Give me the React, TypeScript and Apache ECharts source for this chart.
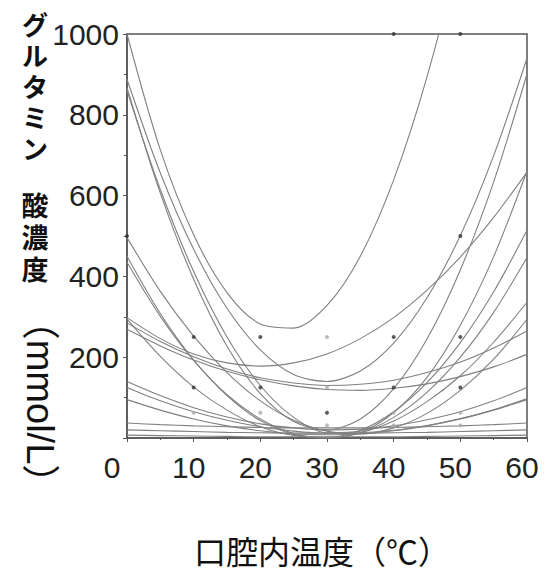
import { useEffect, useRef } from 'react';
import * as echarts from 'echarts';

// temperature samples (°C)
const temps = [0, 5, 10, 15, 20, 25, 30, 35, 40, 45, 50, 55, 60];

// glutamate concentration curves (mmol/L)
const curveA = [1000, 713, 503, 360, 282, 272, 328, 450, 639, 894, 1216, 1605, 2059];
const curveB1 = [888, 656, 467, 321, 218, 157, 140, 166, 235, 347, 501, 699, 940];
const curveB2 = [867, 606, 393, 227, 110, 41, 20, 47, 122, 245, 416, 634, 901];
const curveB3 = [860, 615, 412, 250, 130, 51, 13, 17, 63, 150, 279, 449, 661];
const curveC0 = [496, 363, 252, 162, 92, 44, 17, 10, 25, 61, 118, 195, 294];
const curveC1 = [450, 308, 193, 105, 43, 9, 1, 19, 65, 137, 236, 362, 514];
const curveC2 = [435, 301, 192, 107, 47, 11, 0, 13, 51, 113, 200, 311, 447];
const curveD1 = [298, 246, 208, 186, 178, 186, 208, 246, 298, 366, 448, 546, 658];
const curveD2 = [285, 239, 201, 171, 149, 136, 130, 133, 143, 162, 188, 223, 265];
const curveD3 = [269, 228, 193, 165, 144, 129, 120, 118, 123, 134, 152, 176, 207];
const curveP = [294, 202, 126, 69, 28, 6, 0, 13, 42, 90, 154, 237, 336];
const curveE1 = [140, 105, 75, 52, 35, 25, 20, 22, 30, 45, 65, 92, 125];
const curveE2 = [125, 92, 65, 44, 28, 17, 12, 13, 19, 31, 48, 70, 98];
const curveE3 = [95, 69, 47, 30, 18, 10, 8, 10, 18, 30, 47, 69, 95];
const curveF1 = [37, 33, 30, 28, 26, 25, 25, 25, 26, 28, 30, 33, 37];
const curveF2 = [20, 18, 16, 14, 13, 12, 12, 12, 13, 14, 16, 18, 20];
const curveF3 = [7, 6, 5, 4, 3, 3, 3, 3, 3, 4, 5, 6, 7];

const curves = [
  curveA, curveB1, curveB2, curveB3, curveC0, curveC1, curveC2, curveD1,
  curveD2, curveD3, curveP, curveE1, curveE2, curveE3, curveF1, curveF2, curveF3,
];

// measured points
const darkPoints = [
  [0, 500], [10, 250], [10, 125], [20, 250], [20, 125], [30, 62.5],
  [40, 125], [40, 1000], [50, 1000], [50, 500], [50, 250], [50, 125], [40, 250],
];
const lightPoints = [
  [30, 250], [30, 125], [40, 62.5], [20, 62.5], [10, 62.5], [50, 62.5],
  [50, 31.25], [30, 31.25], [40, 31.25],
];

const xTicks = [0, 10, 20, 30, 40, 50, 60];
const yTicks = [0, 200, 400, 600, 800, 1000];

const yTitleKana = ['グ', 'ル', 'タ', 'ミ', 'ン'];
const yTitleKanji = ['酸', '濃', '度'];
const yTitleUnit = '（mmol/L）';
const xTitle = '口腔内温度（℃）';

const FONT = "'Liberation Sans', 'Noto Sans CJK JP', sans-serif";
const CJK = "'Noto Sans CJK JP', sans-serif";

export default function App() {
  const ref = useRef<HTMLDivElement>(null);

  useEffect(() => {
    document.body.style.margin = '0';
    const chart = echarts.init(ref.current!, undefined, { renderer: 'svg' });

    const lineSeries = curves.map((c) => ({
      type: 'line' as const,
      data: temps.map((t, i) => [t, c[i]]),
      smooth: 0.3,
      showSymbol: false,
      silent: true,
      clip: true,
      lineStyle: { color: '#808080', width: 1.1 },
      z: 2,
    }));

    chart.setOption({
      animation: false,
      backgroundColor: '#ffffff',
      grid: {
        left: 127,
        right: 25,
        top: 34,
        bottom: 134,
        show: true,
        borderColor: '#555',
        borderWidth: 1.5,
      },
      xAxis: {
        type: 'value',
        min: xTicks[0],
        max: xTicks[xTicks.length - 1],
        interval: 10,
        axisLine: { show: true, lineStyle: { color: '#555', width: 1.5 } },
        axisTick: { show: true, length: 4, lineStyle: { color: '#555' } },
        minorTick: { show: true, splitNumber: 2, length: 2, lineStyle: { color: '#555' } },
        splitLine: { show: false },
        axisLabel: {
          fontSize: 30,
          fontFamily: FONT,
          color: '#222',
          margin: 14,
          formatter: (v: number) => (v === 0 ? '{z|0}' : '{n|' + v + '}'),
          rich: {
            z: { fontSize: 30, fontFamily: FONT, color: '#222', padding: [0, 30, 0, 0] },
            n: { fontSize: 30, fontFamily: FONT, color: '#222', padding: [0, 10, 0, 0] },
          },
        },
      },
      yAxis: {
        type: 'value',
        min: yTicks[0],
        max: yTicks[yTicks.length - 1],
        interval: 200,
        axisLine: { show: true, lineStyle: { color: '#555', width: 1.5 } },
        axisTick: { show: true, length: 4, lineStyle: { color: '#555' } },
        minorTick: { show: true, splitNumber: 2, length: 3, lineStyle: { color: '#555' } },
        splitLine: { show: false },
        axisLabel: {
          fontSize: 30,
          fontFamily: FONT,
          color: '#222',
          margin: 8,
          formatter: (v: number) => (v === 0 ? '' : String(v)),
        },
      },
      series: [
        ...lineSeries,
        {
          type: 'scatter',
          data: darkPoints,
          symbolSize: 4,
          itemStyle: { color: '#333' },
          clip: false,
          silent: true,
          z: 3,
        },
        {
          type: 'scatter',
          data: lightPoints,
          symbolSize: 4,
          itemStyle: { color: '#aaa' },
          clip: false,
          silent: true,
          z: 3,
        },
      ],
      graphic: [
        {
          type: 'text',
          x: 35,
          y: 8,
          style: {
            text: yTitleKana.join('\n'),
            fontSize: 26,
            lineHeight: 31,
            fontWeight: 'bold',
            fontFamily: CJK,
            fill: '#111',
            align: 'center',
            verticalAlign: 'top',
          },
        },
        {
          type: 'text',
          x: 35,
          y: 188,
          style: {
            text: yTitleKanji.join('\n'),
            fontSize: 27,
            lineHeight: 32,
            fontWeight: 'bold',
            fontFamily: CJK,
            fill: '#111',
            align: 'center',
            verticalAlign: 'top',
          },
        },
        {
          type: 'text',
          x: 40,
          y: 402,
          rotation: -Math.PI / 2,
          style: {
            text: yTitleUnit,
            fontSize: 38,
            fontFamily: FONT,
            fill: '#111',
            align: 'center',
            verticalAlign: 'middle',
          },
        },
        {
          type: 'text',
          x: 322,
          y: 550,
          style: {
            text: xTitle,
            fontSize: 32,
            fontFamily: CJK,
            fill: '#111',
            align: 'center',
            verticalAlign: 'middle',
          },
        },
      ],
    });

    return () => chart.dispose();
  }, []);

  return (
    <div
      ref={ref}
      style={{ position: 'fixed', left: 0, top: 0, width: 552, height: 572 }}
    />
  );
}
